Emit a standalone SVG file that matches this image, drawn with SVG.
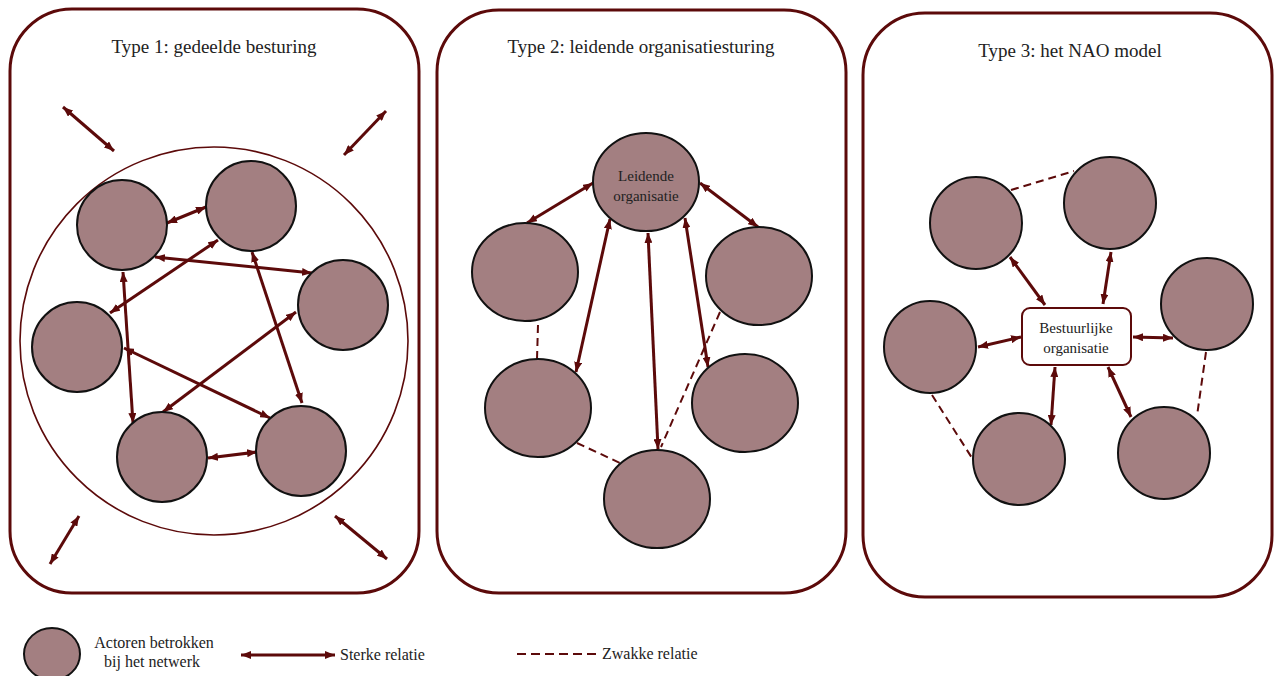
<svg xmlns="http://www.w3.org/2000/svg" width="1278" height="676" viewBox="0 0 1278 676">
<style>
.panel{fill:#fff;stroke:#5c0a0a;stroke-width:3}
.node{fill:#a37f81;stroke:#111;stroke-width:2}
.strong{stroke:#5c0a0a;stroke-width:3;fill:none;marker-start:url(#ah);marker-end:url(#ah)}
.weak{stroke:#5c0a0a;stroke-width:2;fill:none;stroke-dasharray:8 5}
.title{font-family:"Liberation Serif","Times New Roman",serif;font-size:19px;fill:#222;text-anchor:middle}
.lbl{font-family:"Liberation Serif","Times New Roman",serif;font-size:15px;fill:#222;text-anchor:middle}
.leg{font-family:"Liberation Serif","Times New Roman",serif;font-size:16px;fill:#222}
</style>
<defs>
<marker id="ah" viewBox="0 0 10 8" refX="10" refY="4" markerWidth="10" markerHeight="8" markerUnits="userSpaceOnUse" orient="auto-start-reverse">
<path d="M0,0 L10,4 L0,8 z" fill="#5c0a0a"/>
</marker>
</defs>
<rect width="1278" height="676" fill="#fff"/>
<g id="panel1">
<rect class="panel" x="10" y="9" width="409" height="584" rx="62"/>
<text class="title" x="214" y="53">Type 1: gedeelde besturing</text>
<circle cx="214" cy="341" r="194" fill="none" stroke="#5c0a0a" stroke-width="1.6"/>
</g>
<g id="panel2">
<rect class="panel" x="437" y="10" width="409" height="583" rx="62"/>
<text class="title" x="641" y="53">Type 2: leidende organisatiesturing</text>
</g>
<g id="panel3">
<rect class="panel" x="863" y="13" width="409" height="584" rx="62"/>
<text class="title" x="1070" y="57">Type 3: het NAO model</text>
</g>
<g id="connectors">
<line class="strong" x1="167" y1="223" x2="206" y2="207"/>
<line class="strong" x1="155" y1="257" x2="312" y2="273"/>
<line class="strong" x1="123" y1="272" x2="133" y2="423"/>
<line class="strong" x1="110" y1="313" x2="218" y2="240"/>
<line class="strong" x1="252" y1="252" x2="302" y2="403"/>
<line class="strong" x1="124" y1="348" x2="270" y2="418"/>
<line class="strong" x1="296" y1="312" x2="163" y2="412"/>
<line class="strong" x1="208" y1="458" x2="257" y2="452"/>
<line class="strong" x1="63" y1="107" x2="114" y2="151"/>
<line class="strong" x1="386" y1="111" x2="344" y2="155"/>
<line class="strong" x1="79" y1="516" x2="50" y2="564"/>
<line class="strong" x1="335" y1="516" x2="387" y2="559"/>
<line class="strong" x1="593" y1="183" x2="527" y2="223"/>
<line class="strong" x1="700" y1="183" x2="758" y2="227"/>
<line class="strong" x1="610" y1="219" x2="576" y2="372"/>
<line class="strong" x1="648" y1="233" x2="658" y2="449"/>
<line class="strong" x1="685" y1="218" x2="708" y2="367"/>
<line class="weak" x1="538" y1="325" x2="537" y2="359"/>
<line class="weak" x1="577" y1="443" x2="620" y2="463"/>
<line class="weak" x1="720" y1="312" x2="661" y2="447"/>
<line class="strong" x1="1010" y1="257" x2="1045" y2="305"/>
<line class="strong" x1="1111" y1="252" x2="1103" y2="304"/>
<line class="strong" x1="978" y1="347" x2="1021" y2="337"/>
<line class="strong" x1="1133" y1="337" x2="1173" y2="338"/>
<line class="strong" x1="1055" y1="367" x2="1051" y2="425"/>
<line class="strong" x1="1108" y1="367" x2="1131" y2="417"/>
<line class="weak" x1="1011" y1="190" x2="1074" y2="171"/>
<line class="weak" x1="932" y1="395" x2="972" y2="458"/>
<line class="weak" x1="1206" y1="352" x2="1197" y2="416"/>
</g>
<g id="p1-a"><circle class="node" cx="122" cy="225" r="45"/></g>
<g id="p1-b"><circle class="node" cx="251" cy="206" r="45"/></g>
<g id="p1-c"><circle class="node" cx="343" cy="305" r="45"/></g>
<g id="p1-d"><circle class="node" cx="77" cy="347" r="45"/></g>
<g id="p1-e"><circle class="node" cx="162" cy="457" r="45"/></g>
<g id="p1-f"><circle class="node" cx="301" cy="451" r="45"/></g>
<g id="p2-leader"><ellipse class="node" cx="646" cy="182" rx="53" ry="49"/>
<text class="lbl" x="646" y="181">Leidende</text><text class="lbl" x="646" y="201">organisatie</text></g>
<g id="p2-l1"><ellipse class="node" cx="525" cy="272" rx="53" ry="49"/></g>
<g id="p2-r1"><ellipse class="node" cx="759" cy="276" rx="53" ry="49"/></g>
<g id="p2-l2"><ellipse class="node" cx="538" cy="408" rx="53" ry="49"/></g>
<g id="p2-r2"><ellipse class="node" cx="745" cy="403" rx="53" ry="49"/></g>
<g id="p2-bottom"><ellipse class="node" cx="657" cy="499" rx="53" ry="49"/></g>
<g id="p3-box"><rect x="1022" y="308" width="109" height="57" rx="8" fill="#fff" stroke="#5c0a0a" stroke-width="2"/>
<text class="lbl" x="1076" y="333">Bestuurlijke</text><text class="lbl" x="1076" y="353">organisatie</text></g>
<g id="p3-n1"><circle class="node" cx="976" cy="223" r="46"/></g>
<g id="p3-n2"><circle class="node" cx="1110" cy="203" r="46"/></g>
<g id="p3-n3"><circle class="node" cx="1207" cy="304" r="46"/></g>
<g id="p3-n4"><circle class="node" cx="930" cy="347" r="46"/></g>
<g id="p3-n5"><circle class="node" cx="1019" cy="459" r="46"/></g>
<g id="p3-n6"><circle class="node" cx="1164" cy="453" r="46"/></g>
<g id="legend">
<ellipse class="node" cx="52" cy="654" rx="28" ry="26"/>
<text class="leg" x="154" y="648" text-anchor="middle">Actoren betrokken</text>
<text class="leg" x="152" y="667" text-anchor="middle">bij het netwerk</text>
<line class="strong" x1="241" y1="655" x2="335" y2="655"/>
<text class="leg" x="340" y="660">Sterke relatie</text>
<line class="weak" x1="517" y1="654" x2="598" y2="654" style="stroke-dasharray:9 5"/>
<text class="leg" x="602" y="659">Zwakke relatie</text>
</g>
</svg>
